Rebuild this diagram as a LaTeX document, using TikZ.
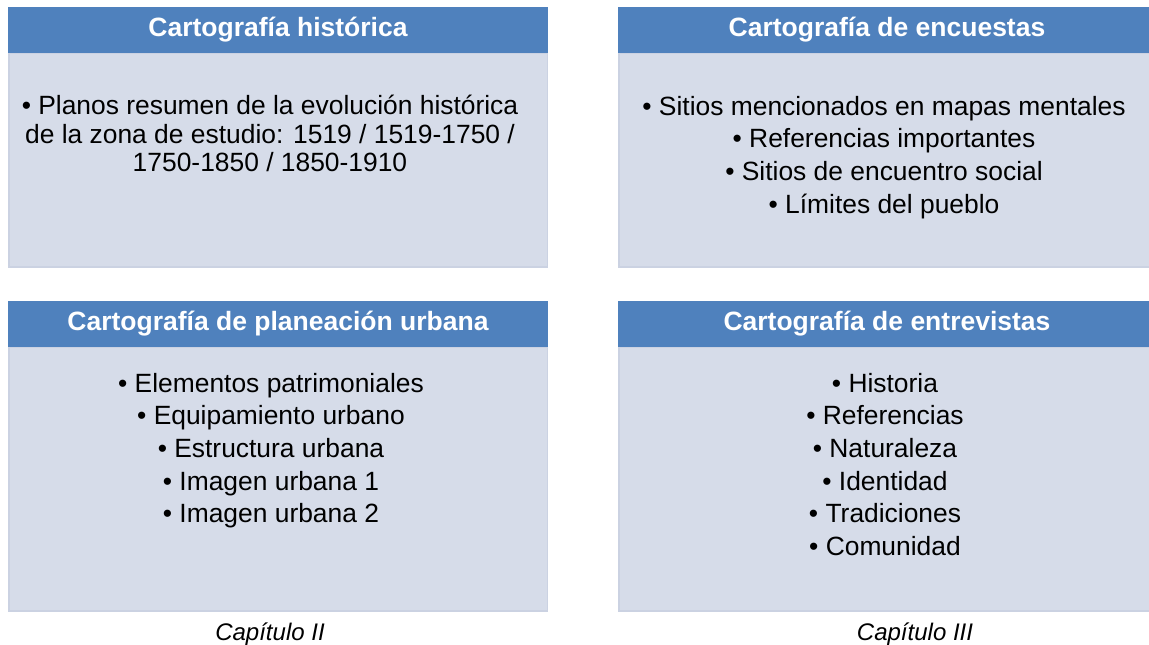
\documentclass[tikz,border=0pt]{standalone}
\usepackage{fontspec}
\setmainfont{Liberation Sans}
\definecolor{hdrblue}{RGB}{79,129,189}
\definecolor{bodyfill}{RGB}{214,220,233}
\definecolor{bodyline}{RGB}{203,210,226}
\begin{document}
\begin{tikzpicture}[x=1pt,y=1pt,
  hdr/.style={fill=hdrblue,draw=none},
  bodybox/.style={fill=bodyfill,draw=bodyline,line width=1.5pt},
  hdrtext/.style={text=white,font={\fontsize{26.5}{30}\selectfont\bfseries},inner sep=0pt},
  bodytext/.style={text=black,font={\fontsize{26.4}{32.6}\selectfont},align=center,inner sep=0pt,anchor=north},
  captext/.style={text=black,font={\fontsize{24}{28}\selectfont\itshape},inner sep=0pt,anchor=base}
]
\useasboundingbox (0,0) rectangle (1149,645);
\begin{scope}
\clip (0,0) rectangle (1149,645);
% Box A
\draw[bodybox] (8.75,592) rectangle (547.25,377.75);
\fill[hdr] (8,638) rectangle (548,592);
\node[hdrtext] (hA) at (278,615) {Cartografía histórica};
\node[bodytext,font={\fontsize{26.4}{28.5}\selectfont}] (tA) at (270,550) {• Planos resumen de la evolución histórica\\de la zona de estudio: 1519 / 1519-1750 /\\1750-1850 / 1850-1910};
% Box B
\draw[bodybox] (618.75,592) rectangle (1160,377.75);
\fill[hdr] (618,638) rectangle (1160,592);
\node[hdrtext] (hB) at (887,615) {Cartografía de encuestas};
\node[bodytext] (tB) at (884,549) {• Sitios mencionados en mapas mentales\\• Referencias importantes\\• Sitios de encuentro social\\• Límites del pueblo};
% Box C
\draw[bodybox] (8.75,298) rectangle (547.25,33.75);
\fill[hdr] (8,344) rectangle (548,298);
\node[hdrtext] (hC) at (278,321) {Cartografía de planeación urbana};
\node[bodytext] (tC) at (271,272) {• Elementos patrimoniales\\• Equipamiento urbano\\• Estructura urbana\\• Imagen urbana 1\\• Imagen urbana 2};
% Box D
\draw[bodybox] (618.75,298) rectangle (1160,33.75);
\fill[hdr] (618,344) rectangle (1160,298);
\node[hdrtext] (hD) at (887,321) {Cartografía de entrevistas};
\node[bodytext] (tD) at (885,272) {• Historia\\• Referencias\\• Naturaleza\\• Identidad\\• Tradiciones\\• Comunidad};
% captions
\node[captext] (cA) at (270,4) {Capítulo II};
\node[captext] (cB) at (915,4) {Capítulo III};
\end{scope}
\end{tikzpicture}
\end{document}
